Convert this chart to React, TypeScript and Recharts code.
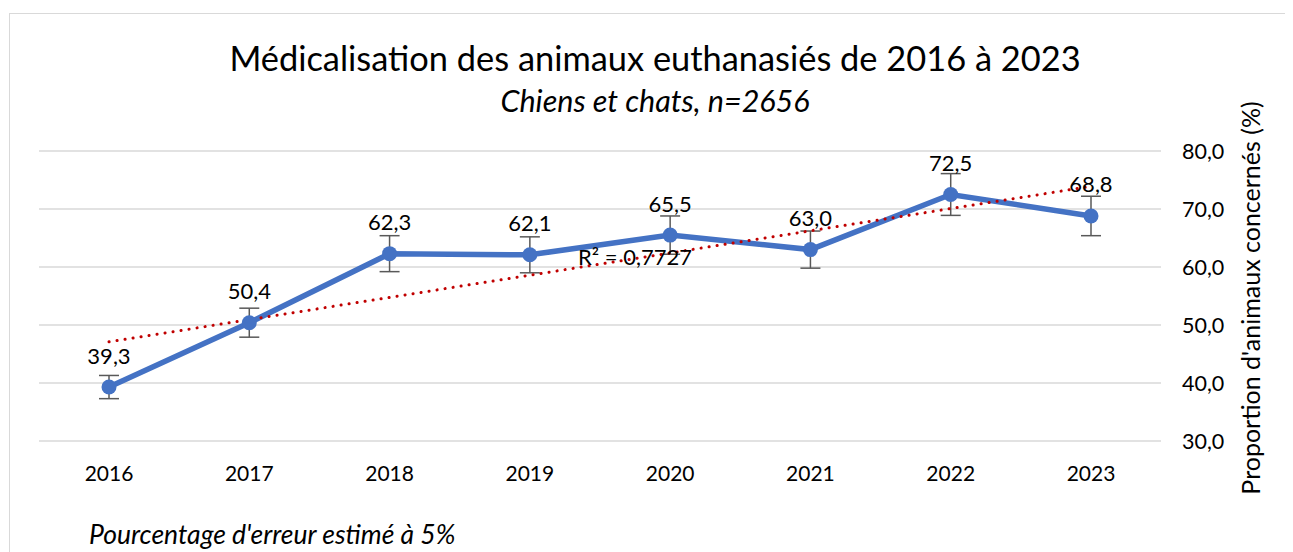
import React from 'react';
import {
  LineChart,
  Line,
  XAxis,
  YAxis,
  CartesianGrid,
  ErrorBar,
  ReferenceLine,
  LabelList,
} from 'recharts';

// values
const years = ['2016', '2017', '2018', '2019', '2020', '2021', '2022', '2023'];
const proportions = [39.3, 50.4, 62.3, 62.1, 65.5, 63.0, 72.5, 68.8];
const errors = [2.0, 2.5, 3.1, 3.1, 3.3, 3.2, 3.6, 3.4];
const yTicks = [30, 40, 50, 60, 70, 80];
// linear trendline end points (Excel trendline)
const trendStart = 47.1;
const trendEnd = 73.9;

const data = years.map((year, i) => ({
  year,
  value: proportions[i],
  err: errors[i],
}));

const FONT = 'Lato, "Open Sans", sans-serif';
const BLUE = '#4472C4';
const RED = '#C00000';

const fmt = (v: number) => v.toFixed(1).replace('.', ',');

const PointLabel = (props: any) => {
  const { x, y, value } = props;
  return (
    <text
      x={x}
      y={y - 32}
      textAnchor="middle"
      dominantBaseline="central"
      fontSize={22}
      fontFamily={FONT}
      fill="#000"
    >
      {fmt(value)}
    </text>
  );
};

const App: React.FC = () => {
  return (
    <div style={{ position: 'relative', width: 1285, height: 544, fontFamily: FONT }}>
      <div
        style={{
          position: 'absolute',
          left: 1,
          top: 5,
          width: 1300,
          height: 560,
          border: '1px solid #D9D9D9',
        }}
      />
      <div
        style={{
          position: 'absolute',
          left: 0,
          width: 1294,
          top: 30,
          lineHeight: '40px',
          textAlign: 'center',
          fontSize: 34.4,
          color: '#000',
        }}
      >
        Médicalisation des animaux euthanasiés de 2016 à 2023
      </div>
      <div
        style={{
          position: 'absolute',
          left: 0,
          width: 1294,
          top: 74,
          lineHeight: '36px',
          textAlign: 'center',
          fontSize: 30.5,
          fontStyle: 'italic',
          color: '#000',
        }}
      >
        Chiens et chats, n=2656
      </div>
      <div
        style={{
          position: 'absolute',
          left: 81,
          top: 511,
          lineHeight: '30px',
          fontSize: 26.5,
          fontStyle: 'italic',
          color: '#000',
        }}
      >
        Pourcentage d'erreur estimé à 5%
      </div>
      <div
        style={{
          position: 'absolute',
          left: 1242 - 220,
          top: 290 - 15,
          width: 440,
          height: 30,
          lineHeight: '30px',
          textAlign: 'center',
          fontSize: 25,
          transform: 'rotate(-90deg)',
          color: '#000',
        }}
      >
        Proportion d'animaux concernés (%)
      </div>
      <div
        style={{
          position: 'absolute',
          left: 570,
          top: 236,
          lineHeight: '26px',
          fontSize: 22,
          color: '#000',
          zIndex: 2,
        }}
      >
        R² = 0,7727
      </div>
      <div style={{ position: 'absolute', left: 0, top: 0 }}>
        <LineChart
          width={1285}
          height={544}
          data={data}
          margin={{ top: 143, right: 72, left: 31, bottom: 81 }}
        >
          <CartesianGrid vertical={false} stroke="#D9D9D9" strokeWidth={1.5} />
          <XAxis
            dataKey="year"
            axisLine={false}
            tickLine={false}
            tickMargin={19}
            height={30}
            padding={{ left: 70, right: 70 }}
            tick={{ fontSize: 21, fill: '#000', fontFamily: FONT }}
          />
          <YAxis
            orientation="right"
            domain={[30, 80]}
            ticks={yTicks}
            axisLine={false}
            tickLine={false}
            tickSize={0}
            tickMargin={21}
            width={60}
            tickFormatter={fmt}
            tick={{ fontSize: 21.5, fill: '#000', fontFamily: FONT }}
          />
          <Line
            dataKey="value"
            stroke={BLUE}
            strokeWidth={5.5}
            dot={{ r: 7.5, fill: BLUE, stroke: BLUE, strokeWidth: 0 }}
            activeDot={false}
            isAnimationActive={false}
          >
            <ErrorBar dataKey="err" width={10} stroke="#595959" strokeWidth={1.5} direction="y" />
            <LabelList dataKey="value" content={PointLabel} />
          </Line>
          <ReferenceLine
            segment={[
              { x: '2016', y: trendStart },
              { x: '2023', y: trendEnd },
            ]}
            stroke={RED}
            strokeWidth={3}
            strokeDasharray="0.1 8"
            strokeLinecap="round"
            ifOverflow="visible"
          />
        </LineChart>
      </div>
    </div>
  );
};

export default App;
